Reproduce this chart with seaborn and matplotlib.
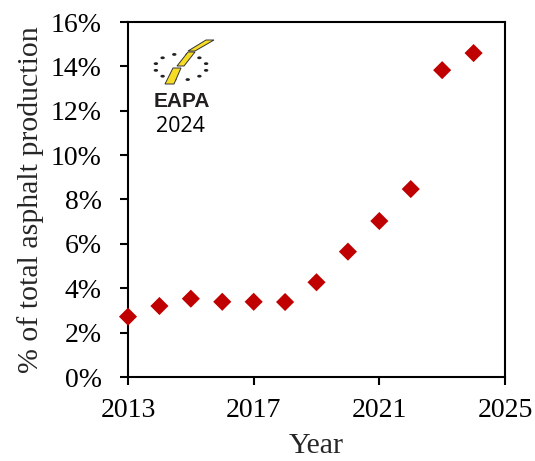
import numpy as np
import pandas as pd
import matplotlib
matplotlib.use("Agg")
import matplotlib.pyplot as plt
import seaborn as sns
from matplotlib.patches import Polygon, Ellipse
from matplotlib.ticker import FuncFormatter

years = [2013, 2014, 2015, 2016, 2017, 2018, 2019, 2020, 2021, 2022, 2023, 2024]
share = [2.72, 3.20, 3.53, 3.39, 3.39, 3.38, 4.27, 5.65, 7.03, 8.47, 13.83, 14.60]
x_ticks = [2013, 2017, 2021, 2025]
y_ticks = list(range(0, 17, 2))

df = pd.DataFrame({"Year": years, "Share": share})

sns.set_style("ticks")
plt.rcParams["font.family"] = ["Liberation Serif", "DejaVu Serif"]

fig = plt.figure(figsize=(5.35, 4.61), dpi=100)
ax = fig.add_axes([128 / 535, 84 / 461, 377 / 535, 355 / 461])

sns.scatterplot(data=df, x="Year", y="Share", marker="D", s=85,
                color="#C00000", edgecolor="none", ax=ax, clip_on=False, zorder=3)

ax.set_xlim(2013, 2025)
ax.set_ylim(0, 16)
ax.set_xticks(x_ticks)
ax.set_yticks(y_ticks)
ax.yaxis.set_major_formatter(FuncFormatter(lambda v, p: f"{int(v)}%"))
ax.tick_params(direction="out", length=6, width=1.5, labelsize=20, colors="black")
ax.tick_params(axis="y", pad=13)
ax.tick_params(axis="x", pad=9)
for sp in ax.spines.values():
    sp.set_visible(True)
    sp.set_linewidth(1.5)
    sp.set_color("black")
ax.set_xlabel("Year", fontsize=21.5, labelpad=7)
ax.set_ylabel("% of total asphalt production", fontsize=21.5, labelpad=5)

# EAPA logo (decoration), drawn in pixel-like coordinates of a small inset
lg = fig.add_axes([148 / 535, (461 - 90) / 461, 70 / 535, 52 / 461])
lg.set_xlim(148, 218)
lg.set_ylim(90, 38)
lg.axis("off")
cx, cy, rx, ry = 181, 67, 26, 13
for ang in np.arange(0, 360, 30) + 15:
    t = np.deg2rad(ang)
    lg.add_patch(Ellipse((cx + rx * np.cos(t), cy + ry * np.sin(t)), 4.4, 2.8,
                         color="#222222", lw=0, zorder=1))
yellow = "#F7DC26"
pieces = [
    [(188, 51), (195, 51), (214, 40), (206, 40)],
    [(177, 66), (184, 66), (195, 52), (188, 52)],
    [(165, 84), (174, 84), (181, 68), (173, 68)],
]
for p in pieces:
    lg.add_patch(Polygon(p, closed=True, facecolor=yellow, edgecolor="#333333",
                         lw=0.7, zorder=2))

ax.text(0.143, 0.775, "EAPA", transform=ax.transAxes, ha="center", va="center",
        fontsize=15, fontweight="heavy", family=["Liberation Sans", "DejaVu Sans"],
        color="#231F20")
ax.text(0.140, 0.705, "2024", transform=ax.transAxes, ha="center", va="center",
        fontsize=15.5, family=["Open Sans", "DejaVu Sans"], color="black")

fig.savefig("out.png", dpi=100)
